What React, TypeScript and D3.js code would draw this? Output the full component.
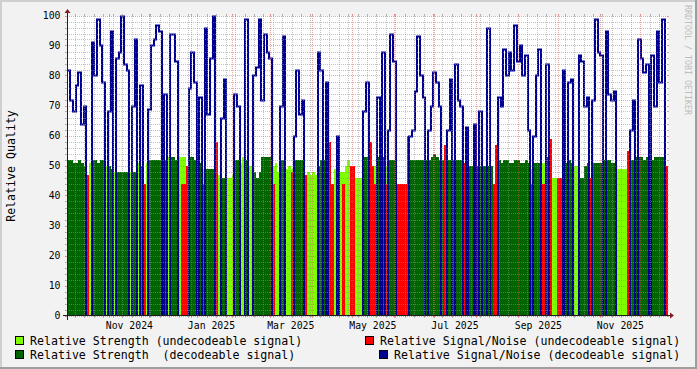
import React from "react";
import * as d3 from "d3";

// ---- data (2-day samples starting 2024-10-01) ----
const START_DATE = "2024-10-01";
const STEP_DAYS = 2;

// 1 = decodeable signal, 0 = undecodeable
const decodeable = [
  1,1,1,1,1,1,1,0,0,1, 1,1,1,1,0,1,1,0,1,1, 1,1,1,0,1,1,0,1,0,0,
  1,1,1,1,1,0,1,0,1,1, 1,0,0,0,0,1,1,1,1,1, 0,1,1,1,1,0,0,1,1,0,
  0,0,1,1,0,0,1,0,0,1, 1,1,1,1,1,1,0,0,0,1, 1,0,0,0,1,1,1,1,0,0,
  0,0,0,1,1,1,1,0,0,0, 1,0,0,0,0,0,0,0,0,0, 1,1,0,0,0,1,1,1,0,1,
  1,1,0,0,0,0,0,1,1,1, 1,1,1,1,1,1,1,1,1,1, 0,1,1,1,1,1,1,0,1,1,
  1,1,1,1,1,1,1,1,0,0, 1,1,1,1,1,1,1,1,1,1, 1,1,0,1,1,1,0,0,1,0,
  0,0,0,0,1,1,1,1,0,0, 1,1,1,1,0,1,1,1,1,1, 1,1,1,1,0,0,0,0,0,1,
  1,1,1,1,1,1,1,1,1,1, 1,1,0,
];

// relative strength (0 = none)
const strength = [
  52,52,51,51,52,51,50,0,51,52, 52,51,52,52,50,50,49,48,48,48, 48,48,48,48,48,48,51,50,0,51,
  52,52,52,52,52,52,52,53,53,53, 52,53,53,53,0,53,53,52,52,51, 49,49,49,49,49,48,47,46,46,46,
  46,47,52,52,51,53,52,50,50,48, 46,48,53,53,53,53,50,51,48,52, 52,49,50,49,52,52,52,52,0,48,
  47,48,47,50,52,52,52,0,0,49, 49,48,48,50,52,0,0,46,46,46, 53,53,0,0,50,53,53,53,50,52,
  52,52,0,0,0,0,0,52,52,52, 52,52,52,52,52,53,54,53,52,52, 0,52,52,52,52,52,52,0,50,50,
  50,50,50,50,50,50,50,50,0,0, 52,51,52,52,51,51,52,52,51,51, 52,51,49,51,51,51,51,51,53,0,
  46,46,0,0,51,51,52,51,50,50, 46,46,50,51,0,51,51,51,51,52, 52,52,51,51,49,49,49,49,0,52,
  52,53,53,53,52,53,53,52,53,53, 53,53,0,
];

// relative signal/noise (blue when decodeable, red when undecodeable)
const snr = [
  82,72,68,77,81,64,70,47,0,91, 80,99,90,78,0,68,95,0,86,88, 100,84,82,0,70,92,0,77,44,0,
  69,90,92,97,95,0,74,0,94,94, 85,0,44,44,50,76,88,78,0,73, 44,96,67,86,100,58,0,66,79,0,
  0,0,74,70,0,0,99,0,0,80, 83,99,72,94,88,86,44,0,0,70, 93,0,0,48,60,82,67,72,47,0,
  0,0,0,88,82,0,78,58,44,0, 60,0,44,0,0,50,50,0,0,0, 68,78,58,50,44,73,0,88,44,62,
  94,85,44,44,44,44,60,60,62,75, 93,80,73,0,62,70,81,78,70,0, 57,62,79,0,84,72,70,51,63,0,
  0,64,0,68,0,0,96,0,44,57, 73,70,89,80,88,82,97,85,90,80, 87,62,44,60,80,89,44,44,84,59,
  0,0,46,46,82,0,78,79,0,0, 87,85,70,73,46,72,99,88,87,0, 95,74,72,75,0,0,0,0,55,62,
  72,0,92,86,81,84,0,87,70,95, 78,99,50,
];

const yTickValues = [0, 10, 20, 30, 40, 50, 60, 70, 80, 90, 100];
const monthLabels = ["Nov 2024", "Jan 2025", "Mar 2025", "May 2025", "Jul 2025", "Sep 2025", "Nov 2025"];
const legendLabels = [
  "Relative Strength (undecodeable signal)",
  "Relative Strength  (decodeable signal)",
  "Relative Signal/Noise (undecodeable signal)",
  "Relative Signal/Noise (decodeable signal)",
];
const yTitle = "Relative Quality";
const watermark = "RRDTOOL / TOBI OETIKER";

const C_LIME = "#80FF00";
const C_GREEN = "#006400";
const C_RED = "#FF0000";
const C_BLUE = "#000090";
const C_GRID = "rgba(143,143,143,0.55)";
const C_MGRID = "rgba(222,79,79,0.5)";
const C_ARROW = "#801F1F";
const C_AXIS = "#1F1F1F";
const MONO = "'DejaVu Sans Mono', monospace";

export default function App() {
  const W = 697;
  const H = 369;
  const parse = d3.utcParse("%Y-%m-%d");
  const start = parse(START_DATE) as Date;
  const n = snr.length;
  const dates = d3.range(n + 1).map((i) => d3.utcDay.offset(start, i * STEP_DAYS));
  const end = dates[n];

  const X0 = 67, X1 = 667, Y0 = 316, Y1 = 16;
  const x = d3.scaleUtc().domain([start, end]).range([X0 + 0.5, X1 + 0.5]);
  const y = d3.scaleLinear().domain([0, 100]).range([Y0 - 0.5, Y1 - 0.5]);

  const px = (d: Date) => Math.round(x(d));

  const rects = (pred: (i: number) => boolean, val: (i: number) => number, color: string, key: string) =>
    d3.range(n)
      .filter((i) => pred(i) && val(i) > 0)
      .map((i) => {
        const xa = px(dates[i]);
        const xb = px(dates[i + 1]);
        const yt = Math.round(y(val(i)));
        return (
          <rect key={key + i} x={xa} y={yt} width={xb - xa} height={Y0 - yt} fill={color} shapeRendering="crispEdges" />
        );
      });

  const blueVals = d3.range(n).map((i) => (decodeable[i] ? snr[i] : 0));
  const bluePts: [Date, number][] = d3.range(n).map((i) => [dates[i], blueVals[i]] as [Date, number]);
  bluePts.push([end, blueVals[n - 1]]);
  const blueLine = d3
    .line<[Date, number]>()
    .x((d) => px(d[0]))
    .y((d) => Math.round(y(d[1])) + 0.5)
    .curve(d3.curveStepAfter)(bluePts) as string;

  // grid
  const minorH = d3.range(0, 101, 2).filter((v) => v % 10 !== 0);
  const majorH = yTickValues;
  const months = d3.utcMonth.range(start, end);
  const weeks = d3.utcMonday.range(start, end).filter((d) => !months.some((m) => Math.abs(+m - +d) < 864e5 * 0.5));

  const monthParse = d3.utcParse("%b %Y");
  const labelDates = monthLabels.map((s) => d3.utcDay.offset(monthParse(s) as Date, 15));

  const hLine = (v: number, color: string, key: string) => {
    const yy = Math.round(y(v)) + 0.5;
    return (
      <g key={key}>
        <line x1={X0 - 2} x2={X0} y1={yy} y2={yy} stroke={color} strokeWidth={1} />
        <line x1={X1} x2={X1 + 2} y1={yy} y2={yy} stroke={color} strokeWidth={1} />
        <line x1={X0 - 2} x2={X1 + 2} y1={yy} y2={yy} stroke={color} strokeWidth={1} strokeDasharray="1,1" />
      </g>
    );
  };
  const vLine = (d: Date, color: string, key: string) => {
    const xc = Math.floor(x(d)) + 0.5;
    return (
      <g key={key}>
        <line x1={xc} x2={xc} y1={Y0} y2={Y0 + 2} stroke={color} strokeWidth={1} />
        <line x1={xc} x2={xc} y1={Y1 - 2} y2={Y1} stroke={color} strokeWidth={1} />
        <line x1={xc} x2={xc} y1={Y1 - 2} y2={Y0 + 2} stroke={color} strokeWidth={1} strokeDasharray="1,1" />
      </g>
    );
  };

  const legendPos = [
    { sx: 15, sy: 336, tx: 30, ty: 345, color: C_LIME },
    { sx: 15, sy: 350, tx: 30, ty: 359, color: C_GREEN },
    { sx: 365, sy: 336, tx: 380, ty: 345, color: C_RED },
    { sx: 379, sy: 350, tx: 394, ty: 359, color: C_BLUE },
  ];

  return (
    <svg
      width={W}
      height={H}
      viewBox={`0 0 ${W} ${H}`}
      style={{ position: "absolute", left: 0, top: 0, display: "block" }}
    >
      <rect x={0} y={0} width={W} height={H} fill="#F2F2F2" />
      {/* 3D frame */}
      <rect x={0} y={0} width={W} height={2} fill="#CFCFCF" />
      <rect x={0} y={0} width={2} height={H} fill="#CFCFCF" />
      <rect x={0} y={H - 2} width={W} height={2} fill="#9E9E9E" />
      <rect x={W - 2} y={0} width={2} height={H} fill="#9E9E9E" />

      {/* canvas */}
      <rect x={X0} y={Y1} width={X1 - X0 + 1} height={Y0 - Y1} fill="#FFFFFF" />

      <defs>
        <clipPath id="plotclip">
          <rect x={X0} y={Y1 - 6} width={X1 - X0 + 1} height={Y0 - Y1 + 6} />
        </clipPath>
      </defs>

      <g clipPath="url(#plotclip)">
        {rects((i) => !decodeable[i], (i) => strength[i], C_LIME, "l")}
        {rects((i) => !!decodeable[i], (i) => strength[i], C_GREEN, "g")}
        {rects((i) => !decodeable[i], (i) => snr[i], C_RED, "r")}
        <path d={blueLine} fill="none" stroke={C_BLUE} strokeWidth={2} />
      </g>

      {/* grid */}
      <g>
        {minorH.map((v) => hLine(v, C_GRID, "mh" + v))}
        {weeks.map((d, i) => vLine(d, C_GRID, "mw" + i))}
        {majorH.map((v) => hLine(v, C_MGRID, "Mh" + v))}
        {months.map((d, i) => vLine(d, C_MGRID, "Mm" + i))}
      </g>

      {/* axes */}
      <line x1={X0 - 4} x2={X1 + 4} y1={Y0 - 0.5} y2={Y0 - 0.5} stroke={C_AXIS} strokeWidth={1} />
      <line x1={X0 + 0.5} x2={X0 + 0.5} y1={Y0 + 4} y2={Y1 - 4} stroke={C_AXIS} strokeWidth={1} />
      <path d={`M${X1 + 3},${Y0 - 3.5} L${X1 + 7},${Y0 - 0.5} L${X1 + 3},${Y0 + 2.5} Z`} fill={C_ARROW} />
      <path d={`M${X0 - 2.5},${Y1 - 3} L${X0 + 0.5},${Y1 - 7} L${X0 + 3.5},${Y1 - 3} Z`} fill={C_ARROW} />

      {/* y tick labels */}
      {yTickValues.map((v) => (
        <text
          key={"yt" + v}
          x={60.5}
          y={y(v)}
          textAnchor="end"
          dominantBaseline="central"
          fontFamily={MONO}
          fontSize={9.8}
          fill="#000"
        >
          {v}
        </text>
      ))}

      {/* x labels */}
      {monthLabels.map((s, i) => (
        <text
          key={"xl" + i}
          x={x(labelDates[i])}
          y={328.5}
          textAnchor="middle"
          fontFamily={MONO}
          fontSize={9.8}
          fill="#000"
        >
          {s}
        </text>
      ))}

      {/* y title */}
      <text
        transform={`translate(15,${(Y0 + Y1) / 2}) rotate(-90)`}
        textAnchor="middle"
        fontFamily={MONO}
        fontSize={11.6}
        fill="#000"
      >
        {yTitle}
      </text>

      {/* watermark */}
      <text
        transform={`translate(684.5,5) rotate(90)`}
        textAnchor="start"
        fontFamily={MONO}
        fontSize={8.3}
        fill="#BDBDBD"
      >
        {watermark}
      </text>

      {/* legend */}
      {legendPos.map((p, i) => (
        <g key={"lg" + i}>
          <rect x={p.sx + 0.5} y={p.sy + 0.5} width={8} height={8} fill={p.color} stroke="#000" strokeWidth={1} />
          <text x={p.tx} y={p.ty} fontFamily={MONO} fontSize={11.6} fill="#000" style={{ whiteSpace: "pre" }}>
            {legendLabels[i]}
          </text>
        </g>
      ))}
    </svg>
  );
}
